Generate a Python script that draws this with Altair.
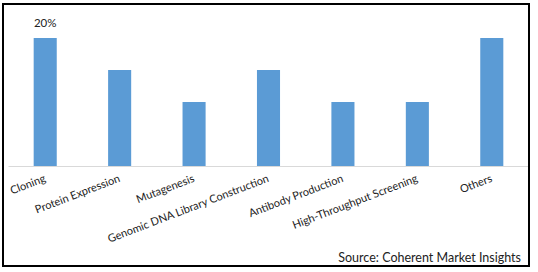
import altair as alt
import pandas as pd

categories = ["Cloning", "Protein Expression", "Mutagenesis", "Genomic DNA Library Construction",
              "Antibody Production", "High-Throughput Screening", "Others"]
shares = [20, 15, 10, 15, 10, 10, 20]
value_labels = ["20%", "", "", "", "", "", ""]
source_text = "Source: Coherent Market Insights"

df = pd.DataFrame({"cat": categories, "share": shares, "lab": value_labels})

W, H = 521, 160
FONT = "Lato"

x = alt.X("cat:N", sort=categories, title=None,
          scale=alt.Scale(paddingInner=0.69, paddingOuter=0.345),
          axis=alt.Axis(labelAngle=-21, labelAlign="right", labelBaseline="middle",
                        labelPadding=12, ticks=False, domainColor="#d9d9d9", domainWidth=1,
                        labelFont=FONT, labelFontSize=11, labelColor="#222222", labelLimit=300))
y = alt.Y("share:Q", scale=alt.Scale(domain=[0, 25], nice=False), axis=None)

bars = alt.Chart(df).mark_bar(color="#5B9BD5").encode(x=x, y=y)

txt = alt.Chart(df).transform_filter("datum.lab != ''").mark_text(
    dy=-14, font=FONT, fontSize=11.5, color="#222222"
).encode(x=alt.X("cat:N", sort=categories), y="share:Q", text="lab:N")

src = alt.Chart(pd.DataFrame({"t": [source_text]})).mark_text(
    align="right", baseline="alphabetic", font=FONT, fontSize=12.5, color="#222222"
).encode(x=alt.value(513), y=alt.value(256), text="t:N")

border = alt.Chart(pd.DataFrame({"a": [0]})).mark_rect(
    fill=None, stroke="black", strokeWidth=2
).encode(x=alt.value(-5), x2=alt.value(521), y=alt.value(-2), y2=alt.value(260))

chart = alt.layer(bars, txt, src, border).properties(
    width=W, height=H,
    padding={"left": 8, "top": 6, "right": 9, "bottom": 106},
    autosize=alt.AutoSizeParams(type="none"),
    background="white",
).configure_view(stroke=None)

chart.save("out.html", embed_options={"renderer": "svg", "actions": False})
